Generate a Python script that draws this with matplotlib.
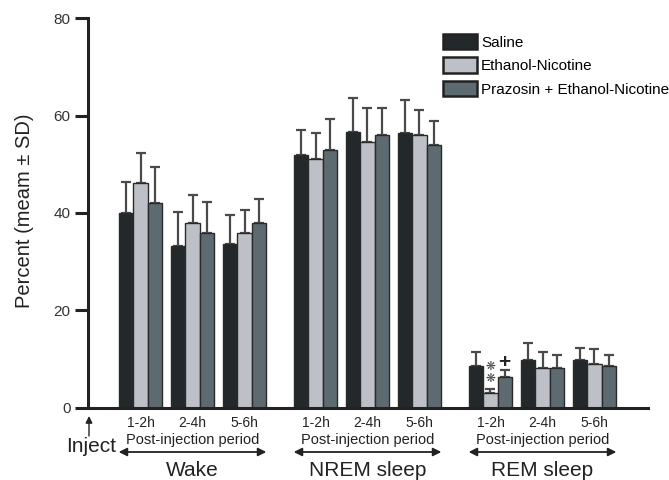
import matplotlib
matplotlib.use("Agg")
import matplotlib.pyplot as plt
import numpy as np
from matplotlib.patches import Patch
import matplotlib.transforms as mtransforms

plt.rcParams['font.family'] = ['Liberation Sans', 'DejaVu Sans']

periods = ["1-2h", "2-4h", "5-6h"]
states = ["Wake", "NREM sleep", "REM sleep"]
series = ["Saline", "Ethanol-Nicotine", "Prazosin + Ethanol-Nicotine"]

saline_mean = [40.1, 33.2, 33.7, 51.9, 56.7, 56.5, 8.5, 9.7, 9.8]
saline_sd = [6.2, 7.1, 5.8, 5.1, 6.9, 6.8, 3.0, 3.6, 2.5]
ethanol_mean = [46.1, 38.0, 35.8, 51.2, 54.7, 56.0, 3.0, 8.2, 9.0]
ethanol_sd = [6.3, 5.6, 4.9, 5.3, 6.9, 5.1, 0.8, 3.3, 3.0]
prazosin_mean = [42.0, 35.8, 38.0, 52.9, 56.0, 53.9, 6.2, 8.2, 8.5]
prazosin_sd = [7.4, 6.5, 4.8, 6.4, 5.6, 5.1, 1.5, 2.6, 2.3]

colors = ['#23292b', '#bdc1c7', '#5d6b71']

W, H = 669, 480
fig = plt.figure(figsize=(W / 100, H / 100), dpi=100)
ax = fig.add_axes([88 / W, 1 - 407.5 / H, (648 - 88) / W, (407.5 - 18.5) / H])

gap = 71 / 52
centers = []
for g in range(3):
    for p in range(3):
        centers.append(g * (2 + gap) + p)
centers = np.array(centers)
bw = 14.3 / 52

means = [saline_mean, ethanol_mean, prazosin_mean]
sds = [saline_sd, ethanol_sd, prazosin_sd]
for i in range(3):
    xs = centers + (i - 1) * bw
    ax.bar(xs, means[i], width=bw, color=colors[i], edgecolor='#2a2a2a',
           linewidth=1.0, zorder=2)
    ax.errorbar(xs, means[i], yerr=[np.zeros(9), sds[i]], fmt='none',
                ecolor='#4a4a4a', elinewidth=1.6, capsize=3.6, capthick=1.6,
                zorder=1)

ax.set_xlim((88 - 140.5) / 52, (648 - 140.5) / 52)
ax.set_ylim(0, 80)
ax.set_yticks([0, 20, 40, 60, 80])
ax.tick_params(axis='y', direction='out', length=9.5, width=2.2,
               color='#222222', labelsize=11, labelcolor='#333333', pad=3)
ax.set_xticks(centers)
ax.set_xticklabels(periods * 3)
ax.tick_params(axis='x', length=0, labelsize=10, labelcolor='#222222', pad=6)
for s in ['top', 'right']:
    ax.spines[s].set_visible(False)
for s in ['left', 'bottom']:
    ax.spines[s].set_linewidth(2.2)
    ax.spines[s].set_color('#222222')

# significance marks
ax.text(centers[6], 8.5, '\u274b', ha='center', va='center',
        fontsize=8.5, color='#444444', family=['DejaVu Sans'])
ax.text(centers[6], 5.9, '\u274b', ha='center', va='center',
        fontsize=8.5, color='#444444', family=['DejaVu Sans'])
ax.text(centers[6] + bw * 0.95, 9.3, '+', ha='center', va='center',
        fontsize=15, fontweight='bold', color='#222222')

# lower annotations
trans = mtransforms.blended_transform_factory(ax.transData, fig.transFigure)
def fy(p):
    return 1 - p / H

for g in range(3):
    c = centers[g * 3 + 1]
    ax.text(c, fy(440), 'Post-injection period', transform=trans,
            ha='center', va='center', fontsize=10.5, color='#222222')
    ax.annotate('', xy=(c - 1.42, fy(452)), xytext=(c + 1.42, fy(452)),
                xycoords=trans, textcoords=trans,
                arrowprops=dict(arrowstyle='<|-|>', color='#222222', lw=1.3,
                                mutation_scale=12, shrinkA=0, shrinkB=0))
    ax.text(c, fy(470), states[g], transform=trans, ha='center',
            va='center', fontsize=15, color='#222222')

fig.text(91 / W, fy(447), 'Inject', ha='center', va='center', fontsize=15,
         color='#222222')
ax.annotate('', xy=(89 / W, fy(416)), xytext=(89 / W, fy(436)),
            xycoords='figure fraction', textcoords='figure fraction',
            arrowprops=dict(arrowstyle='-|>', color='#222222', lw=1.0,
                            mutation_scale=10, shrinkA=0, shrinkB=0))

fig.text(25 / W, fy(211), 'Percent (meam \u00b1 SD)', rotation=90,
         ha='center', va='center', fontsize=14.5, color='#222222')

handles = [Patch(facecolor=colors[i], edgecolor='#222222', linewidth=1.8)
           for i in range(3)]
fig.legend(handles, series, loc='upper left',
           bbox_to_anchor=(443 / W, 1 - 34 / H), frameon=False,
           fontsize=11, handlelength=2.2, handleheight=1.15,
           handletextpad=0.3, labelspacing=0.5, borderpad=0,
           borderaxespad=0)

fig.savefig('out.png', dpi=100)
